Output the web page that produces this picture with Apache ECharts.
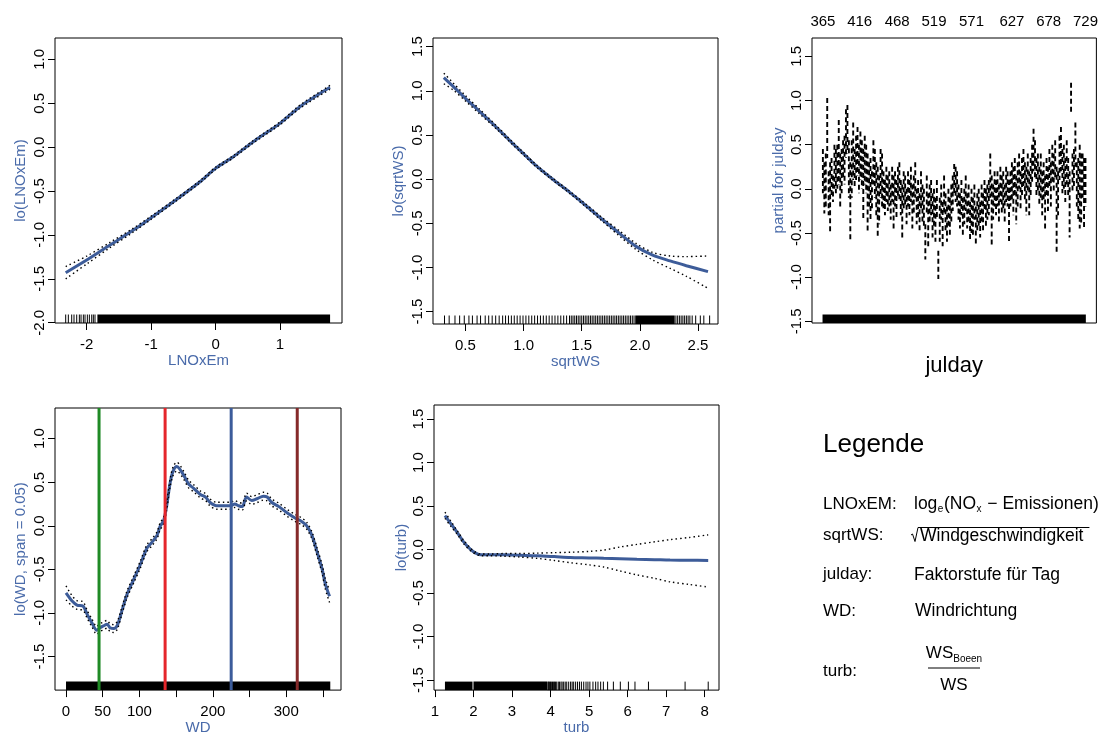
<!DOCTYPE html>
<html><head><meta charset="utf-8">
<script src="https://cdn.jsdelivr.net/npm/echarts@6/dist/echarts.min.js"></script>
<style>html,body{margin:0;padding:0;background:#fff}#c{width:1101px;height:736px}</style>
</head><body><div id="c"></div>
<script>
// ---------------- DATA ----------------
// Panel 1: lo(LNOxEm)
const lnoxX   = [-2.326, -2.0, -1.638, -1.276, -1.0, -0.655, -0.241, 0.0, 0.276, 0.586, 1.0, 1.31, 1.776];
const lnoxFit = [-1.43, -1.286, -1.115, -0.945, -0.804, -0.622, -0.394, -0.242, -0.109, 0.062, 0.271, 0.461, 0.681];
const lnoxSe2 = [0.07, 0.045, 0.03, 0.022, 0.018, 0.015, 0.013, 0.013, 0.013, 0.014, 0.016, 0.018, 0.022];
const lnoxRugTicks = [-2.326, -2.285, -2.233, -2.197, -2.155, -2.114, -2.088, -2.052, -2.026, -1.99, -1.959, -1.922, -1.897, -1.871];
const lnoxRugBlocks = [[-1.834, 1.777]];
const lnoxXTicks = [-2, -1, 0, 1];
const lnoxYTicks = [-2.0, -1.5, -1.0, -0.5, 0.0, 0.5, 1.0];

// Panel 2: lo(sqrtWS)
const wsX     = [0.314, 0.394, 0.5, 0.623, 0.766, 0.91, 0.99, 1.11, 1.24, 1.397, 1.51, 1.68, 1.83, 1.97, 2.11, 2.26, 2.40, 2.586];
const wsFit   = [1.15, 1.05, 0.915, 0.764, 0.587, 0.40, 0.30, 0.15, 0.01, -0.149, -0.27, -0.46, -0.62, -0.764, -0.86, -0.926, -0.98, -1.047];
const wsUpper = [1.20, 1.09, 0.945, 0.79, 0.605, 0.415, 0.315, 0.163, 0.022, -0.137, -0.255, -0.44, -0.59, -0.73, -0.83, -0.87, -0.877, -0.87];
const wsLower = [1.08, 1.01, 0.885, 0.738, 0.569, 0.385, 0.285, 0.137, -0.002, -0.161, -0.285, -0.48, -0.65, -0.80, -0.915, -1.01, -1.10, -1.236];
const wsRugTicks = [0.32, 0.36, 0.41, 0.45, 0.49, 0.53, 0.56, 0.60, 0.63, 0.67, 0.70, 0.73, 0.76, 0.79,
  0.82, 0.845, 0.87, 0.895, 0.92, 0.945, 0.97, 0.995, 1.02, 1.045, 1.07, 1.095, 1.12, 1.145, 1.17, 1.195,
  1.22, 1.245, 1.27, 1.295, 1.32, 1.345, 1.37, 1.395, 1.41, 1.425, 1.44, 1.455, 1.47, 1.485, 1.50, 1.515,
  1.53, 1.545, 1.56, 1.575, 1.59, 1.605, 1.62, 1.635, 1.65, 1.665, 1.68, 1.695, 1.71, 1.725, 1.74, 1.755,
  1.77, 1.785, 1.80, 1.815, 1.83, 1.845, 1.86, 1.875, 1.89, 1.905, 1.92, 1.935, 1.95,
  2.31, 2.325, 2.34, 2.355, 2.37, 2.385, 2.40, 2.415, 2.43, 2.45, 2.48, 2.52, 2.55, 2.60];
const wsRugBlocks = [[1.96, 2.30]];
const wsXTicks = [0.5, 1.0, 1.5, 2.0, 2.5];
const wsYTicks = [-1.5, -1.0, -0.5, 0.0, 0.5, 1.0, 1.5];

// Panel 3: partial for julday (factor levels, +/- 2 se segments)
const julDays = [365,367,369,371,373,375,377,379,381,383,
  385,387,389,391,393,395,397,399,401,403, 405,407,409,411,413,415,417,419,421,423,
  425,427,429,431,433,435,437,439,441,443, 445,447,449,451,453,455,457,459,461,463,
  465,467,469,471,473,475,477,479,481,483, 485,487,489,491,493,495,497,499,501,503,
  505,507,509,511,513,515,517,519,521,523, 525,527,529,531,533,535,537,539,541,543,
  545,547,549,551,553,555,557,559,561,563, 565,567,569,571,573,575,577,579,581,583,
  585,587,589,591,593,595,597,599,601,603, 605,607,609,611,613,615,617,619,621,623,
  625,627,629,631,633,635,637,639,641,643, 645,647,649,651,653,655,657,659,661,663,
  665,667,669,671,673,675,677,679,681,683, 685,687,689,691,693,695,697,699,701,703,
  705,707,709,711,713,715,717,719,721,723, 725,727,729];
const julHi = [0.45,0.30,0.40,1.03,0.20,0.30,0.35,0.15,0.50,0.45,
  0.50,0.78,0.40,0.45,0.55,0.60,0.90,0.95,0.55,0.30, 0.55,0.75,0.45,0.60,0.70,0.50,0.65,0.55,0.45,0.60,
  0.50,0.40,0.30,0.35,0.20,0.55,0.45,0.30,0.25,0.15, 0.45,0.40,0.20,0.10,0.25,0.15,0.20,0.05,0.25,0.15,
  0.20,0.10,0.25,0.30,0.10,0.05,0.20,0.15,0.00,0.20, 0.10,0.25,0.05,0.15,0.30,0.00,0.10,-0.05,0.20,0.05,
  0.00,-0.40,0.15,-0.05,0.05,0.10,-0.05,0.00,-0.10,0.10, -0.70,-0.10,0.05,-0.15,0.15,-0.05,-0.20,0.00,-0.10,0.05,
  0.15,0.28,0.25,0.20,0.05,-0.05,0.10,-0.10,0.00,0.15, -0.05,0.05,-0.15,0.00,-0.10,0.05,-0.20,-0.05,0.00,-0.15,
  0.05,-0.05,0.10,0.00,0.05,0.10,0.40,0.15,0.05,0.20, 0.10,0.20,0.05,0.25,0.15,0.20,0.05,0.25,0.20,0.10,
  0.20,0.30,0.25,0.35,0.15,0.30,0.40,0.20,0.35,0.45, 0.30,0.25,0.40,0.20,0.35,0.50,0.68,0.55,0.35,0.40,
  0.25,0.40,0.20,0.30,0.15,0.35,0.25,0.45,0.30,0.50, 0.40,0.55,0.25,0.20,0.60,0.70,0.45,0.50,0.35,0.55,
  0.35,0.20,1.20,0.40,0.45,0.75,0.30,0.35,0.50,0.40, 0.40,0.35,0.35];
const julLo = [-0.05,-0.28,-0.20,0.35,-0.30,-0.50,-0.10,-0.15,0.00,-0.05,
  0.00,0.05,-0.20,-0.05,0.10,0.05,0.35,0.40,-0.10,-0.57, -0.10,0.10,0.00,0.10,0.15,-0.05,0.10,0.00,-0.35,0.05,
  -0.05,-0.50,-0.20,-0.35,-0.25,0.05,-0.10,-0.30,-0.55,-0.40, -0.10,-0.20,-0.25,-0.30,-0.15,-0.25,-0.20,-0.35,-0.15,-0.45,
  -0.20,-0.35,-0.10,-0.15,-0.30,-0.55,-0.25,-0.20,-0.40,-0.20, -0.30,-0.15,-0.45,-0.30,-0.10,-0.40,-0.35,-0.50,-0.25,-0.40,
  -0.45,-0.80,-0.30,-0.65,-0.40,-0.30,-0.55,-0.45,-0.60,-0.35, -1.02,-0.60,-0.35,-0.65,-0.30,-0.50,-0.60,-0.45,-0.55,-0.40,
  -0.25,-0.05,-0.15,-0.20,-0.35,-0.45,-0.30,-0.55,-0.40,-0.25, -0.45,-0.40,-0.60,-0.50,-0.55,-0.35,-0.65,-0.50,-0.45,-0.55,
  -0.40,-0.50,-0.25,-0.45,-0.35,-0.30,-0.10,-0.65,-0.35,-0.20, -0.30,-0.20,-0.40,-0.15,-0.30,-0.25,-0.40,-0.15,-0.20,-0.60,
  -0.20,-0.15,-0.30,-0.10,-0.40,-0.20,0.00,-0.25,-0.10,0.00, -0.15,-0.30,-0.05,-0.30,-0.10,0.05,0.20,0.10,-0.10,-0.05,
  -0.20,-0.10,-0.30,-0.15,-0.45,-0.10,-0.25,0.00,-0.20,0.05, -0.05,0.10,-0.72,-0.30,0.10,0.20,-0.05,0.00,-0.15,0.05,
  -0.10,-0.55,0.85,-0.05,0.00,0.25,-0.20,-0.35,-0.45,-0.40, -0.10,-0.45,-0.20];
const julLabels = [365, 416, 468, 519, 571, 627, 678, 729];
const julRugBlocks = [[364.5, 729.5]];
const julYTicks = [-1.5, -1.0, -0.5, 0.0, 0.5, 1.0, 1.5];

// Panel 4: lo(WD, span = 0.05)
const wdX   = [0, 8, 15, 23, 29, 35, 42, 46, 51, 56, 60, 65, 70, 76, 83, 92, 101, 110, 117, 124,
  128, 133, 137, 142, 146, 151, 155, 161, 167, 174, 183, 190, 196, 205, 215, 224, 230, 235, 240, 246,
  253, 260, 269, 274, 280, 290, 301, 312, 321, 328, 335, 342, 349, 353, 359];
const wdFit = [-0.77, -0.86, -0.91, -0.92, -1.02, -1.11, -1.20, -1.17, -1.15, -1.13, -1.17, -1.18, -1.14, -0.98, -0.79, -0.62, -0.45, -0.26, -0.19, -0.11,
  -0.01, 0.06, 0.22, 0.50, 0.63, 0.68, 0.65, 0.57, 0.48, 0.43, 0.36, 0.33, 0.27, 0.23, 0.23, 0.23, 0.25, 0.23, 0.22, 0.33,
  0.29, 0.31, 0.34, 0.33, 0.27, 0.22, 0.15, 0.09, 0.05, 0.00, -0.11, -0.30, -0.50, -0.66, -0.81];
const wdSe2 = [0.08, 0.06, 0.05, 0.05, 0.045, 0.045, 0.045, 0.045, 0.045, 0.045, 0.045, 0.045, 0.045, 0.04, 0.04, 0.04, 0.04, 0.04, 0.04, 0.04,
  0.04, 0.04, 0.04, 0.045, 0.05, 0.05, 0.05, 0.045, 0.045, 0.04, 0.04, 0.04, 0.04, 0.04, 0.04, 0.04, 0.04, 0.04, 0.04, 0.045,
  0.045, 0.045, 0.045, 0.045, 0.04, 0.04, 0.04, 0.04, 0.04, 0.04, 0.04, 0.045, 0.05, 0.06, 0.07];
const wdLines = [45, 135, 225, 315];
const wdLineColors = ['#1F8A25', '#E5262B', '#3C5C9B', '#852A2A'];
const wdRugBlocks = [[0, 360]];
const wdXTicks = [0, 50, 100, 150, 200, 250, 300, 350];
const wdXLabels = [0, 50, 100, 200, 300];
const wdYTicks = [-1.5, -1.0, -0.5, 0.0, 0.5, 1.0];

// Panel 5: lo(turb)
const turbX     = [1.26, 1.41, 1.59, 1.76, 1.93, 2.06, 2.19, 2.4, 2.79, 3.2, 3.65, 4.1, 4.51, 5.0, 5.38, 5.8, 6.24, 6.7, 7.10, 7.6, 8.09];
const turbFit   = [0.39, 0.30, 0.19, 0.08, 0.00, -0.04, -0.06, -0.06, -0.06, -0.065, -0.07, -0.08, -0.09, -0.095, -0.10, -0.105, -0.11, -0.115, -0.12, -0.122, -0.125];
const turbUpper = [0.43, 0.33, 0.21, 0.10, 0.015, -0.03, -0.05, -0.05, -0.045, -0.045, -0.04, -0.035, -0.03, -0.02, -0.005, 0.03, 0.06, 0.09, 0.115, 0.14, 0.17];
const turbLower = [0.36, 0.27, 0.17, 0.06, -0.015, -0.05, -0.07, -0.07, -0.075, -0.085, -0.10, -0.125, -0.15, -0.175, -0.20, -0.245, -0.29, -0.33, -0.37, -0.40, -0.43];
const turbRugTicks = [3.93, 3.95, 3.97, 4.0, 4.02, 4.05, 4.08, 4.1, 4.13, 4.16, 4.2, 4.23, 4.27, 4.3, 4.34, 4.38, 4.42, 4.47, 4.52, 4.56,
  4.6, 4.65, 4.7, 4.75, 4.8, 4.86, 4.92, 4.97, 5.02, 5.1, 5.17, 5.23, 5.3, 5.37, 5.48, 5.63, 5.81, 6.02, 6.19, 6.54, 7.49, 8.09];
const turbRugBlocks = [[1.26, 1.975], [2.0, 3.91]];
const turbXTicks = [1, 2, 3, 4, 5, 6, 7, 8];
const turbYTicks = [-1.5, -1.0, -0.5, 0.0, 0.5, 1.0, 1.5];

// ---------------- STYLE / LAYOUT ----------------
const FONT = "'Liberation Sans', Arial, Helvetica, sans-serif";
const FIT = '#3D5C99', NAMEC = '#4A6BAA';
const RUG_H = 8.5;

const P = [
  {g:{left:55, top:38, width:287, height:285}, xmin:-2.492, xmax:1.962, ymin:-2.003, ymax:1.243},
  {g:{left:433, top:38, width:285, height:286}, xmin:0.221, xmax:2.672, ymin:-1.64, ymax:1.598},
  {g:{left:812, top:38, width:285, height:285}, xmin:349.9, xmax:744.1, ymin:-1.519, ymax:1.708},
  {g:{left:55, top:408, width:286, height:285}, xmin:-15, xmax:374.6, ymin:-1.886, ymax:1.352},
  {g:{left:434, top:405, width:285, height:288}, xmin:0.976, xmax:8.37, ymin:-1.614, ymax:1.662}
];

function yAxisCfg(i, ticks, name, gap) {
  return {type:'value', gridIndex:i, position:'left', min:P[i].ymin, max:P[i].ymax, name, nameLocation:'middle', nameGap:gap, nameRotate:90,
    nameTextStyle:{color:NAMEC, fontSize:15, fontFamily:FONT},
    splitLine:{show:false}, axisLine:{show:false, onZero:false},
    axisTick:{show:true, inside:false, length:7, customValues:ticks, lineStyle:{color:'#000', width:1}},
    axisLabel:{customValues:ticks, rotate:90, margin:8, fontSize:15, color:'#000', fontFamily:FONT, formatter:v => v.toFixed(1)}};
}
function xAxisCfg(i, ticks, labels, fmt, name, gap) {
  return {type:'value', gridIndex:i, position:'bottom', min:P[i].xmin, max:P[i].xmax, name, nameLocation:'middle', nameGap:gap,
    nameTextStyle:{color:NAMEC, fontSize:15, fontFamily:FONT},
    splitLine:{show:false}, axisLine:{show:false, onZero:false},
    axisTick:{show:true, inside:false, length:7, customValues:ticks, lineStyle:{color:'#000', width:1}},
    axisLabel:{customValues:labels, margin:14, fontSize:15, color:'#000', fontFamily:FONT, formatter:fmt}};
}

function lineS(ax, xs, ys, style, z) {
  return {type:'line', xAxisIndex:ax[0], yAxisIndex:ax[1], data:xs.map((x, k) => [x, ys[k]]),
    showSymbol:false, symbol:'none', smooth:0.3, lineStyle:style, z, silent:true, clip:true};
}
const fitStyle = {color:FIT, width:3};
const seStyle = {color:'#000', width:1.4, type:[1.5, 3]};

function rugS(ax, ticks, blocks, pi) {
  const yMin = P[pi].ymin;
  const data = ticks.map(t => [t, t, yMin]).concat(blocks.map(b => [b[0], b[1], yMin]));
  return {type:'custom', xAxisIndex:ax[0], yAxisIndex:ax[1], data, silent:true, z:3,
    encode:{x:[0, 1], y:2},
    renderItem:(params, api) => {
      const a = api.value(0), b = api.value(1);
      const p1 = api.coord([a, yMin]), p2 = api.coord([b, yMin]);
      if (b > a) return {type:'rect', shape:{x:p1[0], y:p1[1] - RUG_H, width:p2[0] - p1[0], height:RUG_H}, style:{fill:'#000'}};
      return {type:'line', shape:{x1:p1[0], y1:p1[1], x2:p1[0], y2:p1[1] - RUG_H}, style:{stroke:'#000', lineWidth:1}};
    }};
}

const series = [];
// Panel 1
series.push(lineS([0,0], lnoxX, lnoxFit, fitStyle, 4));
series.push(lineS([0,0], lnoxX, lnoxFit.map((v,k) => v + lnoxSe2[k]), seStyle, 5));
series.push(lineS([0,0], lnoxX, lnoxFit.map((v,k) => v - lnoxSe2[k]), seStyle, 5));
series.push(rugS([0,0], lnoxRugTicks, lnoxRugBlocks, 0));
// Panel 2
series.push(lineS([1,1], wsX, wsFit, fitStyle, 4));
series.push(lineS([1,1], wsX, wsUpper, seStyle, 5));
series.push(lineS([1,1], wsX, wsLower, seStyle, 5));
series.push(rugS([1,1], wsRugTicks, wsRugBlocks, 1));
// Panel 3
series.push({type:'custom', xAxisIndex:2, yAxisIndex:2, silent:true, z:4,
  data: julDays.map((d,k) => [d, julHi[k], julLo[k]]), encode:{x:0, y:[1,2]},
  renderItem:(params, api) => {
    const p1 = api.coord([api.value(0), api.value(1)]), p2 = api.coord([api.value(0), api.value(2)]);
    return {type:'line', shape:{x1:p1[0], y1:p1[1], x2:p2[0], y2:p2[1]}, style:{stroke:'#000', lineWidth:1.9, lineDash:[5,3]}};
  }});
series.push(rugS([2,2], [], julRugBlocks, 2));
// Panel 4
series.push(lineS([4,3], wdX, wdFit, fitStyle, 4));
series.push(lineS([4,3], wdX, wdFit.map((v,k) => v + wdSe2[k]), seStyle, 5));
series.push(lineS([4,3], wdX, wdFit.map((v,k) => v - wdSe2[k]), seStyle, 5));
series.push(rugS([4,3], [], wdRugBlocks, 3));
series.push({type:'custom', xAxisIndex:4, yAxisIndex:3, silent:true, z:8,
  data: wdLines.map((x,k) => [x, k]), encode:{x:0},
  renderItem:(params, api) => {
    const x = api.value(0), k = api.value(1);
    const p1 = api.coord([x, P[3].ymax]), p2 = api.coord([x, P[3].ymin]);
    return {type:'line', shape:{x1:p1[0], y1:p1[1], x2:p2[0], y2:p2[1]}, style:{stroke:wdLineColors[k], lineWidth:3}};
  }});
// Panel 5
series.push(lineS([5,4], turbX, turbFit, fitStyle, 4));
series.push(lineS([5,4], turbX, turbUpper, seStyle, 5));
series.push(lineS([5,4], turbX, turbLower, seStyle, 5));
series.push(rugS([5,4], turbRugTicks, turbRugBlocks, 4));

const xAxes = [
  xAxisCfg(0, lnoxXTicks, lnoxXTicks, v => String(v), 'LNOxEm', 29),
  xAxisCfg(1, wsXTicks, wsXTicks, v => v.toFixed(1), 'sqrtWS', 29),
  {type:'value', gridIndex:2, position:'top', min:P[2].xmin, max:P[2].xmax, splitLine:{show:false}, axisLine:{show:false, onZero:false},
    axisTick:{show:false}, axisLabel:{customValues:julLabels, margin:9, fontSize:15, color:'#000', fontFamily:FONT, formatter:v => String(v)}},
  {type:'value', gridIndex:2, position:'bottom', min:P[2].xmin, max:P[2].xmax, splitLine:{show:false}, axisLine:{show:false, onZero:false},
    axisTick:{show:false}, axisLabel:{show:false}, name:'julday', nameLocation:'middle', nameGap:32,
    nameTextStyle:{color:'#000', fontSize:22, fontFamily:FONT}},
  xAxisCfg(3, wdXTicks, wdXLabels, v => String(v), 'WD', 29),
  xAxisCfg(4, turbXTicks, turbXTicks, v => String(v), 'turb', 29)
];
const yAxes = [
  yAxisCfg(0, lnoxYTicks, 'lo(LNOxEm)', 27),
  yAxisCfg(1, wsYTicks, 'lo(sqrtWS)', 27),
  yAxisCfg(2, julYTicks, 'partial for julday', 26),
  yAxisCfg(3, wdYTicks, 'lo(WD, span = 0.05)', 27),
  yAxisCfg(4, turbYTicks, 'lo(turb)', 25)
];

// ---------------- LEGEND (text) ----------------
const mctx = document.createElement('canvas').getContext('2d');
function tw(t, size) { mctx.font = size + 'px ' + FONT; return mctx.measureText(t).width; }
function txt(t, x, y, size, extra) {
  return Object.assign({type:'text', silent:true, style:{text:t, x, y, font:size + 'px ' + FONT, fill:'#000', align:'left', verticalAlign:'middle'}}, extra || {});
}
const G = [];
G.push(txt('Legende', 823, 445, 26));
const LX = 823, VX = 914, LS = 17, VS = 17.5, SS = 10;
G.push(txt('LNOxEM:', LX, 504, LS));
G.push(txt('sqrtWS:', LX, 535, LS));
G.push(txt('julday:', LX, 574, LS));
G.push(txt('WD:', LX, 611, LS));
G.push(txt('turb:', LX, 671, LS));
// log_e(NO_x − Emissionen)
(function(){
  let x = VX, y = 504;
  G.push(txt('log', x, y, VS)); x += tw('log', VS) + 0.5;
  G.push(txt('e', x, y + 5, SS)); x += tw('e', SS) + 0.5;
  G.push(txt('(NO', x, y, VS)); x += tw('(NO', VS) + 0.5;
  G.push(txt('x', x, y + 5, SS)); x += tw('x', SS) + 1;
  G.push(txt(' \u2212 Emissionen)', x, y, VS));
})();
// sqrt(Windgeschwindigkeit)
(function(){
  const y = 536, w = tw('Windgeschwindigkeit', VS);
  G.push({type:'polyline', silent:true, shape:{points:[[911, 535], [912.5, 534], [915, 541.5], [918, 527.5], [920 + w + 6, 527.5]]},
    style:{stroke:'#000', lineWidth:1, fill:null}});
  G.push(txt('Windgeschwindigkeit', 920, y, VS));
})();
G.push(txt('Faktorstufe f\u00fcr Tag', VX, 575, VS));
G.push(txt('Windrichtung', VX + 1, 611, VS));
// fraction WS_Boeen / WS
(function(){
  const cx = 954, fs = 17, ss = 10;
  const wNum = tw('WS', fs) + tw('Boeen', ss);
  const x0 = cx - wNum / 2;
  G.push(txt('WS', x0, 653, fs));
  G.push(txt('Boeen', x0 + tw('WS', fs), 659, ss));
  G.push({type:'line', silent:true, shape:{x1:928, y1:668, x2:980, y2:668}, style:{stroke:'#000', lineWidth:1}});
  G.push(txt('WS', cx - tw('WS', fs) / 2, 685, fs));
})();

const chart = echarts.init(document.getElementById('c'), null, {renderer:'canvas'});
chart.setOption({
  animation:false,
  backgroundColor:'#fff',
  textStyle:{fontFamily:FONT},
  grid: P.map(p => Object.assign({show:true, borderColor:'#000', borderWidth:1, backgroundColor:'transparent'}, p.g)),
  xAxis: xAxes,
  yAxis: yAxes,
  series,
  graphic: G
});
</script></body></html>
